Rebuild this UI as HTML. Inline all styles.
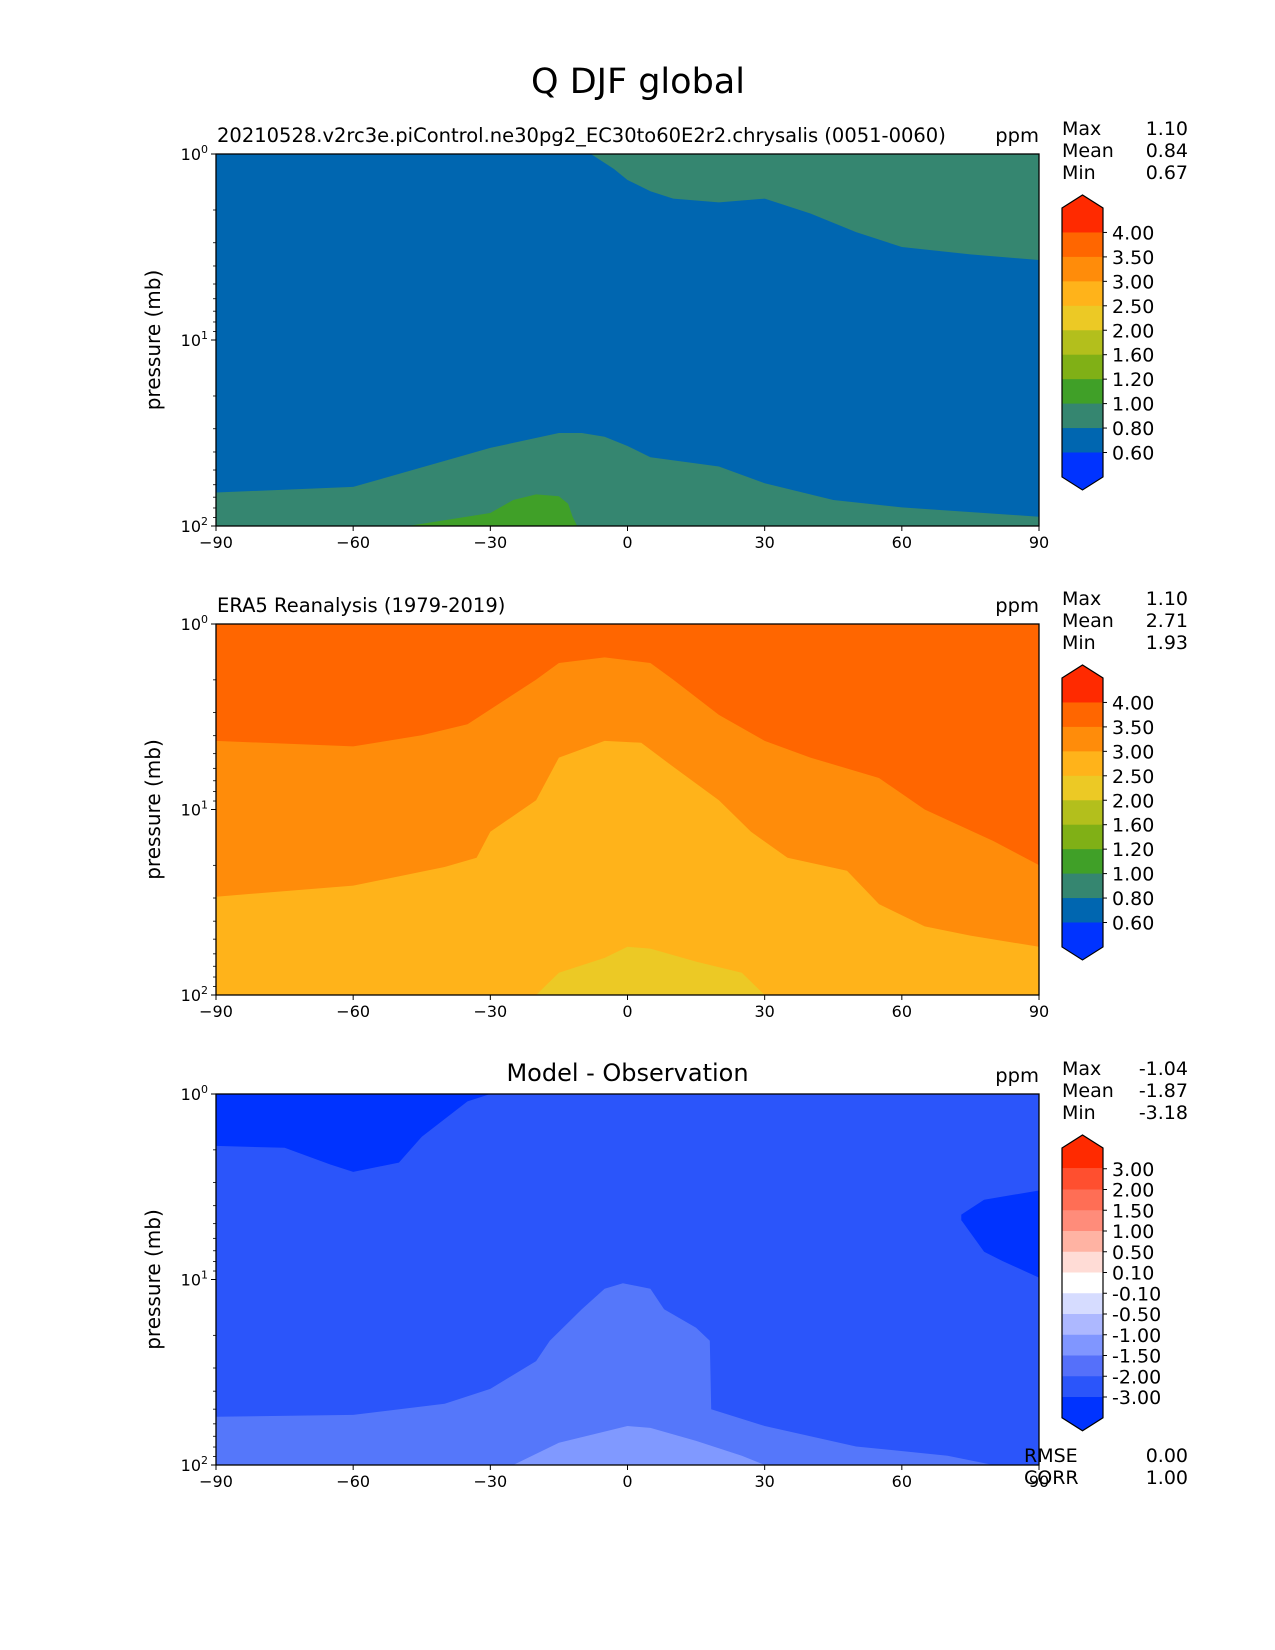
<!DOCTYPE html>
<html><head><meta charset="utf-8"><style>
html,body{margin:0;padding:0;background:#fff}
svg{display:block;font-family:"DejaVu Sans","Liberation Sans",sans-serif}
</style></head><body>
<svg id="fig" width="1275" height="1650" viewBox="0 0 1275 1650" xmlns="http://www.w3.org/2000/svg">
<text x="638" y="93" font-size="35" text-anchor="middle">Q DJF global</text>
</svg>
<script>
// ---------- data: contour boundaries (lat, log10 pressure) ----------
const xTicks = [-90,-60,-30,0,30,60,90];
const yTickExp = [0,1,2];
const cbLabels1 = ["4.00","3.50","3.00","2.50","2.00","1.60","1.20","1.00","0.80","0.60"];
const cbColors1 = ["#ff2a00","#ff6600","#ff8c0a","#ffb31a","#ecc925","#b3bf1c","#80b016","#40a028","#358670","#0066b0","#0033ff"];
const cbLabels3 = ["3.00","2.00","1.50","1.00","0.50","0.10","-0.10","-0.50","-1.00","-1.50","-2.00","-3.00"];
const cbColors3 = ["#ff2a00","#ff4f2f","#ff6e55","#ff8c7a","#ffb3a3","#ffdcd6","#ffffff","#d6dcff","#adb8ff","#8096ff","#5570fa","#2b55fa","#0033ff"];
// panel 1
const p1TopLat = [-8,-3,0,5,10,20,30,40,50,60,75,90];
const p1TopLog = [0,0.08,0.14,0.2,0.24,0.26,0.24,0.32,0.42,0.5,0.54,0.57];
const p1BotLat = [-90,-60,-30,-15,-10,-5,0,5,20,30,45,60,90];
const p1BotLog = [1.82,1.79,1.58,1.50,1.50,1.52,1.57,1.63,1.68,1.77,1.86,1.90,1.95];
const p1BlobLat = [-48,-30,-25,-20,-15,-13,-12,-11];
const p1BlobLog = [2,1.93,1.86,1.83,1.84,1.88,1.95,2];
// panel 2
const p2ALat = [-90,-60,-45,-35,-25,-20,-15,-5,5,10,20,30,40,55,65,80,90];
const p2ALog = [0.63,0.66,0.6,0.54,0.38,0.3,0.21,0.18,0.21,0.3,0.49,0.63,0.72,0.83,1.0,1.17,1.3];
const p2BLat = [-90,-60,-40,-33,-30,-20,-15,-5,3,10,20,27,35,48,55,65,75,90];
const p2BLog = [1.47,1.41,1.31,1.26,1.12,0.95,0.72,0.63,0.64,0.77,0.95,1.12,1.26,1.33,1.51,1.63,1.68,1.74];
const p2CLat = [-20,-15,-5,0,5,15,25,30];
const p2CLog = [2,1.88,1.80,1.74,1.75,1.82,1.88,2];
// panel 3
const p3DarkLat = [-90,-75,-65,-60,-50,-45,-35,-30];
const p3DarkLog = [0.28,0.29,0.38,0.42,0.37,0.23,0.04,0];
const p3BlobLat = [73,78,90,90,82,78,73];
const p3BlobLog = [0.65,0.57,0.52,0.99,0.9,0.85,0.68];
const p3LightLat = [-90,-60,-40,-30,-20,-17,-10,-5,-1,5,8,15,18,18.3,30,50,70,80,90];
const p3LightLog = [1.74,1.73,1.67,1.59,1.44,1.33,1.16,1.05,1.02,1.05,1.16,1.26,1.33,1.70,1.79,1.90,1.95,2,2];
const p3LiteLat = [-25,-15,0,5,15,25,30];
const p3LiteLog = [2,1.88,1.79,1.80,1.87,1.95,2];

const NS="http://www.w3.org/2000/svg";
const svg=document.getElementById('fig');
function mk(tag,attrs,parent){const e=document.createElementNS(NS,tag);for(const k in attrs)e.setAttribute(k,attrs[k]);(parent||svg).appendChild(e);return e;}
const X0=216,X1=1039;
function sx(lat){return X0+(lat+90)/180*(X1-X0);}
function mkY(top,bot){return l=>top+l/2*(bot-top);}
function pts(lats,logs,sy){return lats.map((a,i)=>sx(a).toFixed(1)+','+sy(logs[i]).toFixed(1));}

function panel(top,bot,id,title,titleCenter,bg,stats,layers){
  const sy=mkY(top,bot);
  const g=mk('g',{});
  
  
  const r=mk('rect',{x:X0,y:top,width:X1-X0,height:bot-top,fill:bg},g);
  
  
  layers(g,sy);
  const f=mk('rect',{x:X0,y:top,width:X1-X0,height:bot-top,fill:'none',stroke:'#000','stroke-width':1.3},g);
  
  
  xTicks.forEach(v=>{
    const x=sx(v);
    mk('line',{x1:x,x2:x,y1:bot,y2:bot+5,stroke:'#000','stroke-width':1},g);
    const t=mk('text',{x:x,y:bot+22,'font-size':16,'text-anchor':'middle'},g);
    t.textContent=(v<0?'\u2212'+(-v):String(v));
    
    
  });
  yTickExp.forEach(e=>{
    const y=sy(e);
    mk('line',{x1:X0-5,x2:X0,y1:y,y2:y,stroke:'#000','stroke-width':1},g);
    const t=mk('text',{x:X0-8,y:y+6,'font-size':16,'text-anchor':'end'},g);
    t.textContent='10';
    const s=mk('tspan',{dy:-7,'font-size':11},t);s.textContent=String(e);
    
    
    if(e<2){for(let m=2;m<10;m++){const yy=sy(e+Math.log10(m));mk('line',{x1:X0-3,x2:X0,y1:yy,y2:yy,stroke:'#000','stroke-width':0.8},g);}}
  });
  const yl=mk('text',{x:0,y:0,'font-size':20,'text-anchor':'middle',transform:`translate(160,${(top+bot)/2}) rotate(-90)`},g);
  yl.textContent='pressure (mb)';
  
  
  const tt=mk('text',titleCenter?{x:(X0+X1)/2,y:top-13,'font-size':24,'text-anchor':'middle'}:{x:217,y:top-12,'font-size':19.5},g);
  tt.textContent=title;
  
  
  const u=mk('text',{x:X1,y:top-12,'font-size':19.5,'text-anchor':'end'},g);
  u.textContent='ppm';
  
  
  stats.forEach((s,i)=>{
    const a=mk('text',{x:1062,y:top-19+i*22,'font-size':19},g);a.textContent=s[0];
    
    
    const b=mk('text',{x:1188,y:top-19+i*22,'font-size':19,'text-anchor':'end'},g);b.textContent=s[1];
    
    
  });
}
function below(g,sy,lats,logs,color,name){
  const p=pts(lats,logs,sy);
  p.push(sx(lats[lats.length-1]).toFixed(1)+','+sy(2),sx(lats[0]).toFixed(1)+','+sy(2));
  const e=mk('polygon',{points:p.join(' '),fill:color},g);
  
  
}
function above(g,sy,lats,logs,color,name){
  const p=pts(lats,logs,sy);
  p.push(sx(lats[lats.length-1]).toFixed(1)+','+sy(0),sx(lats[0]).toFixed(1)+','+sy(0));
  const e=mk('polygon',{points:p.join(' '),fill:color},g);
  
  
}
function closed(g,sy,lats,logs,color,name){
  const e=mk('polygon',{points:pts(lats,logs,sy).join(' '),fill:color},g);
  
  
}
function colorbar(tip,labels,colors,bandH,name){
  const g=mk('g',{});
  
  
  const L=1062,R=1103,top=tip+13,n=colors.length,bot=top+n*bandH,M=(L+R)/2;
  colors.forEach((c,i)=>{
    const y=top+i*bandH;
    if(i===0) mk('polygon',{points:`${L},${y+bandH} ${L},${top} ${M},${tip} ${R},${top} ${R},${y+bandH}`,fill:c},g);
    else if(i===n-1) mk('polygon',{points:`${L},${y} ${L},${bot} ${M},${bot+13} ${R},${bot} ${R},${y}`,fill:c},g);
    else mk('rect',{x:L,y:y,width:R-L,height:bandH+0.5,fill:c},g);
  });
  mk('polygon',{points:`${L},${top} ${M},${tip} ${R},${top} ${R},${bot} ${M},${bot+13} ${L},${bot}`,fill:'none',stroke:'#000','stroke-width':1.2},g);
  labels.forEach((l,i)=>{
    const y=top+(i+1)*bandH;
    mk('line',{x1:R,x2:R+4,y1:y,y2:y,stroke:'#000'},g);
    const t=mk('text',{x:R+9,y:y+7,'font-size':19},g);t.textContent=l;
    
    
  });
}

panel(154,526,'panel-model','20210528.v2rc3e.piControl.ne30pg2_EC30to60E2r2.chrysalis (0051-0060)',false,'#0066b0',
 [['Max','1.10'],['Mean','0.84'],['Min','0.67']],(g,sy)=>{
  above(g,sy,p1TopLat,p1TopLog,'#358670','band-0.8-1.0-top');
  below(g,sy,p1BotLat,p1BotLog,'#358670','band-0.8-1.0-bottom');
  closed(g,sy,p1BlobLat,p1BlobLog,'#40a028','band-1.0-1.2');
 });
colorbar(195,cbLabels1,cbColors1,24.45,'colorbar-model');

panel(624,995,'panel-obs','ERA5 Reanalysis (1979-2019)',false,'#ff6600',
 [['Max','1.10'],['Mean','2.71'],['Min','1.93']],(g,sy)=>{
  below(g,sy,p2ALat,p2ALog,'#ff8c0a','band-3.0-3.5');
  below(g,sy,p2BLat,p2BLog,'#ffb31a','band-2.5-3.0');
  closed(g,sy,p2CLat,p2CLog,'#ecc925','band-2.0-2.5');
 });
colorbar(665,cbLabels1,cbColors1,24.45,'colorbar-obs');

panel(1094,1465,'panel-diff','Model - Observation',true,'#2b55fa',
 [['Max','-1.04'],['Mean','-1.87'],['Min','-3.18']],(g,sy)=>{
  above(g,sy,p3DarkLat,p3DarkLog,'#0033ff','band-lt-minus3-left');
  closed(g,sy,p3BlobLat,p3BlobLog,'#0033ff','band-lt-minus3-right');
  below(g,sy,p3LightLat,p3LightLog,'#5577fa','band-minus2-minus1.5');
  closed(g,sy,p3LiteLat,p3LiteLog,'#8099ff','band-minus1.5-minus1');
 });
colorbar(1135,cbLabels3,cbColors3,20.75,'colorbar-diff');
[['RMSE','0.00',1462],['CORR','1.00',1484]].forEach(s=>{
  const a=document.createElementNS(NS,'text');a.setAttribute('x',1024);a.setAttribute('y',s[2]);a.setAttribute('font-size',19);a.textContent=s[0];
  
  
  svg.appendChild(a);
  const b=document.createElementNS(NS,'text');b.setAttribute('x',1188);b.setAttribute('y',s[2]);b.setAttribute('font-size',19);b.setAttribute('text-anchor','end');b.textContent=s[1];
  
  
  svg.appendChild(b);
});
</script>
</body></html>
